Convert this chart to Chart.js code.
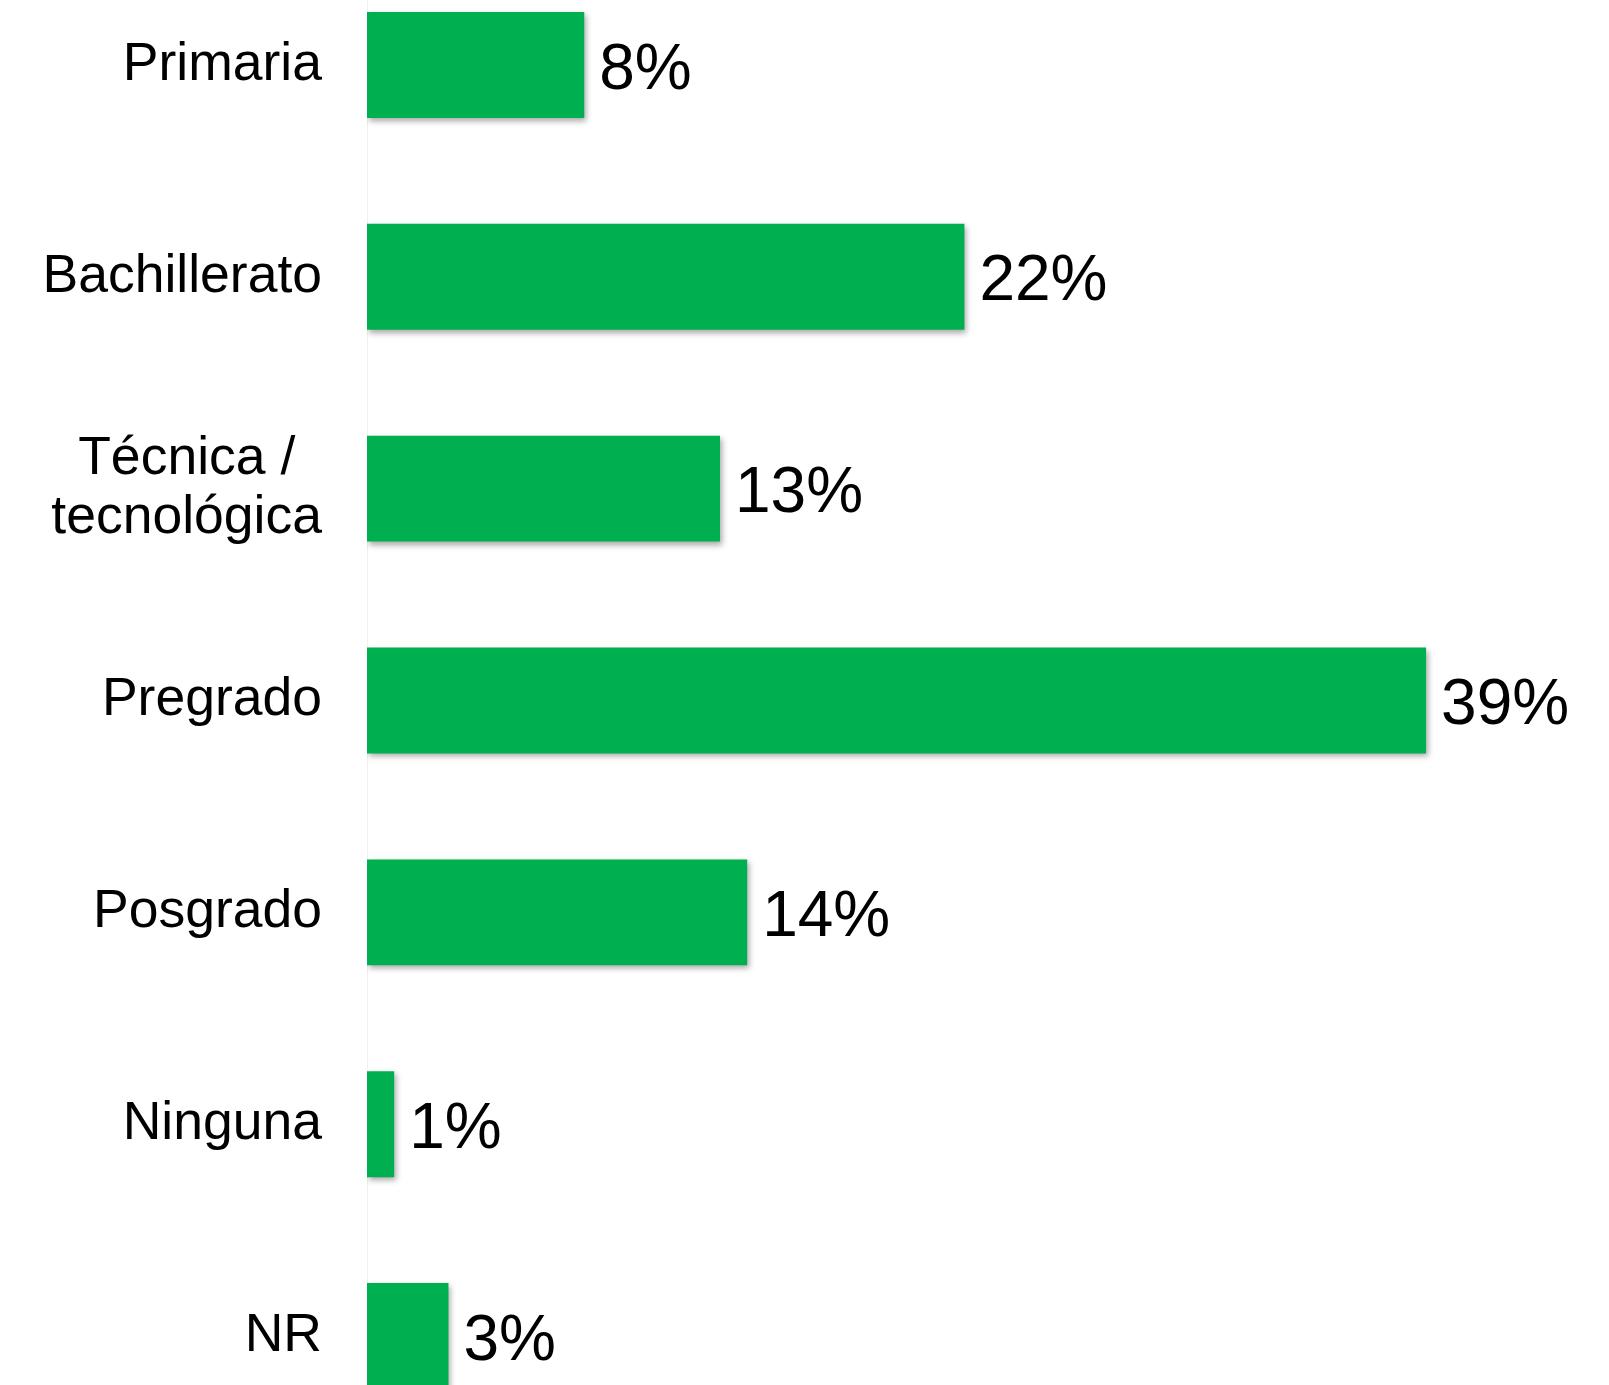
<!DOCTYPE html>
<html>
<head>
<meta charset="utf-8">
<title>Nivel educativo</title>
<script src="https://cdn.jsdelivr.net/npm/chart.js@4.4.0/dist/chart.umd.min.js"></script>
<style>
  html, body { margin: 0; padding: 0; background: #ffffff; overflow: hidden; }
  body { width: 1609px; height: 1385px; position: relative; }
  #myChart { position: absolute; left: 0; top: -41px; }
</style>
</head>
<body>
<canvas id="myChart" width="1609" height="1483"></canvas>
<script>
'use strict';

//chart data
let levels = ['Primaria', 'Bachillerato', ['Técnica /\u2002', 'tecnológica'], 'Pregrado', 'Posgrado', 'Ninguna', 'NR'];
let percents = [8, 22, 13, 39, 14, 1, 3];
let valueLabels = ['8%', '22%', '13%', '39%', '14%', '1%', '3%'];

let barGreen = '#00B050';
let fontFamily = '"Liberation Sans", Arial, sans-serif';

// soft drop shadow under the bars
let barShadow = {
  id: 'barShadow',
  beforeDatasetsDraw(chart) {
    let ctx = chart.ctx;
    ctx.save();
    ctx.shadowColor = 'rgba(0, 0, 0, 0.35)';
    ctx.shadowBlur = 6;
    ctx.shadowOffsetX = 2;
    ctx.shadowOffsetY = 3;
  },
  afterDatasetsDraw(chart) {
    chart.ctx.restore();
  }
};

// percentage text at the end of each bar
let barValues = {
  id: 'barValues',
  afterDatasetsDraw(chart) {
    let ctx = chart.ctx;
    let meta = chart.getDatasetMeta(0);
    ctx.save();
    ctx.fillStyle = '#000000';
    ctx.font = '64px ' + fontFamily;
    ctx.textAlign = 'left';
    ctx.textBaseline = 'middle';
    for (let i = 0; i < meta.data.length; i++) {
      let bar = meta.data[i];
      ctx.fillText(valueLabels[i], bar.x + 15, bar.y + 6);
    }
    ctx.restore();
  }
};

function renderChart() {
  let chartObject = {
    type: 'bar',
    data: {
      labels: levels,
      datasets: [{
        label: 'Nivel educativo',
        data: percents,
        backgroundColor: barGreen,
        borderWidth: 0,
        categoryPercentage: 1,
        barPercentage: 0.5
      }]
    },
    options: {
      indexAxis: 'y',
      responsive: false,
      animation: false,
      devicePixelRatio: 1,
      layout: { padding: { left: 0, right: 20, top: 0, bottom: 0 } },
      plugins: {
        legend: { display: false },
        tooltip: { enabled: false }
      },
      scales: {
        x: {
          display: false,
          min: 0,
          max: 45
        },
        y: {
          // fixed label column, and no extra room above/below the bars
          afterFit(scale) {
            scale.width = 367;
            scale.paddingTop = 0;
            scale.paddingBottom = 0;
          },
          grid: { display: false, drawTicks: false },
          border: { display: true, color: '#f0f0f0', width: 1 },
          ticks: {
            color: '#000000',
            padding: 45,
            font: { family: fontFamily, size: 53.5, lineHeight: 1.1 }
          }
        }
      }
    },
    plugins: [barShadow, barValues]
  };
  let ctx = document.getElementById('myChart').getContext('2d');
  let myChart = new Chart(ctx, chartObject);
}

renderChart();
</script>
</body>
</html>
